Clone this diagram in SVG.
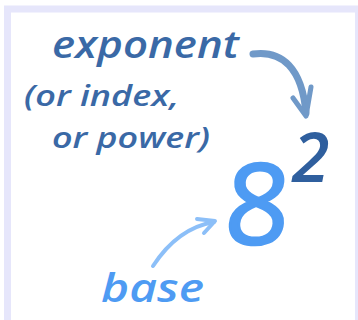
<svg xmlns="http://www.w3.org/2000/svg" width="358" height="320" viewBox="0 0 358 320">
<style>
.lbl{font-family:"Open Sans","DejaVu Sans",sans-serif;font-style:italic;font-weight:600;}
.dark{fill:#3a69a6;}
.light{fill:#4e9bf3;}
.arr{fill:none;stroke-linecap:round;stroke-linejoin:round;}
</style>
<rect x="0" y="0" width="358" height="320" fill="#ffffff"/>
<rect x="7.5" y="9" width="351" height="315" fill="#ffffff" stroke="#e6e6fb" stroke-width="7"/>
<g id="exponent-label">
<text class="lbl dark" x="52" y="58" font-size="37" textLength="187" lengthAdjust="spacingAndGlyphs">exponent</text>
<text class="lbl dark" x="24" y="106" font-size="28" textLength="155" lengthAdjust="spacingAndGlyphs">(or index,</text>
<text class="lbl dark" x="52" y="148" font-size="28" textLength="158" lengthAdjust="spacingAndGlyphs">or power)</text>
</g>
<g id="base-number">
<text x="223" y="244" font-family="'Open Sans','DejaVu Sans',sans-serif" font-size="112" font-weight="400" fill="#4e9bf3" stroke="#4e9bf3" stroke-width="2.5" stroke-linejoin="round" transform="skewX(-4) translate(17,0)">8</text>
</g>
<g id="exponent-number">
<text class="lbl" x="292" y="182" font-size="68" font-weight="bold" fill="#2f5f9e">2</text>
</g>
<g id="base-label">
<text class="lbl light" x="101" y="302" font-size="40" textLength="103" lengthAdjust="spacingAndGlyphs">base</text>
</g>
<g id="connectors">
<path class="arr" d="M253,54 C282,50 302,68 306,113" stroke="#7099c8" stroke-width="7"/>
<path class="arr" d="M293,98 L306,116 L311,87" stroke="#7099c8" stroke-width="5"/>
<path class="arr" d="M153,266 C170,240 190,226 214,222" stroke="#8cbff8" stroke-width="4"/>
<path class="arr" d="M197,219 L215,221 L204,233" stroke="#8cbff8" stroke-width="4"/>
</g>
</svg>
